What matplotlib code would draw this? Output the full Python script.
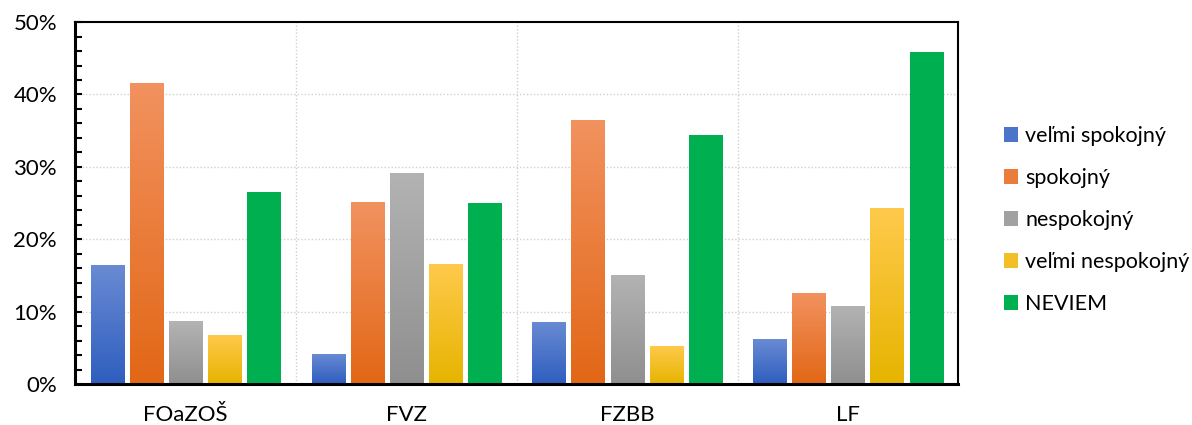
import numpy as np
import matplotlib
matplotlib.use("Agg")
import matplotlib.pyplot as plt
from matplotlib.colors import LinearSegmentedColormap
from matplotlib.ticker import MultipleLocator, PercentFormatter
from matplotlib.patches import Patch

categories = ["FOaZOŠ", "FVZ", "FZBB", "LF"]
series_names = ["veľmi spokojný", "spokojný", "nespokojný", "veľmi nespokojný", "NEVIEM"]
velmi_spokojny = [16.5, 4.2, 8.6, 6.2]
spokojny = [41.6, 25.1, 36.5, 12.6]
nespokojny = [8.7, 29.2, 15.1, 10.8]
velmi_nespokojny = [6.8, 16.6, 5.3, 24.3]
neviem = [26.5, 25.0, 34.4, 45.9]
values = [velmi_spokojny, spokojny, nespokojny, velmi_nespokojny, neviem]

# (top colour, bottom colour)
grad = [("#6A8BD3", "#2E5EBF"),
        ("#F2925F", "#E26716"),
        ("#B3B3B3", "#8F8F8F"),
        ("#FFCA4C", "#E6B400"),
        ("#00B050", "#00B050")]

plt.rcParams['font.family'] = ['Lato', 'DejaVu Sans']

fig = plt.figure(figsize=(11.92, 4.25), dpi=100)
ax = fig.add_axes([0.063, 0.0965, 0.741, 0.8515])

x = np.arange(len(categories))
step = 0.177
width = 0.15
for i, (name, vals) in enumerate(zip(series_names, values)):
    offs = (i - 2) * step
    top, bot = grad[i]
    bars = ax.bar(x + offs, vals, width, color=top, label=name, zorder=3,
                  edgecolor='none')
    cmap = LinearSegmentedColormap.from_list(f"g{i}", [bot, top])
    for b in bars:
        bx, by = b.get_x(), b.get_y()
        bw, bh = b.get_width(), b.get_height()
        im = ax.imshow(np.linspace(0, 1, 256).reshape(-1, 1), cmap=cmap,
                       origin='lower', aspect='auto',
                       extent=[bx, bx + bw, by, by + bh], zorder=3.5)
        im.set_clip_path(b)

ax.set_xlim(-0.5, 3.5)
ax.set_ylim(0, 50)
ax.set_aspect('auto')
ax.set_xticks(x)
ax.set_xticklabels(categories, fontsize=16)
ax.tick_params(axis='x', length=0, pad=15)
ax.yaxis.set_major_locator(MultipleLocator(10))
ax.yaxis.set_minor_locator(MultipleLocator(2))
ax.yaxis.set_major_formatter(PercentFormatter(decimals=0))
ax.tick_params(axis='y', which='both', direction='in', length=5, width=1.5,
               labelsize=16, pad=13)

# grid
for yv in range(10, 50, 10):
    ax.axhline(yv, color='#D0D0D0', linestyle=(0, (1, 1.5)), linewidth=1, zorder=1)
for xv in [0.5, 1.5, 2.5]:
    ax.axvline(xv, color='#D0D0D0', linestyle=(0, (1, 1.5)), linewidth=1, zorder=1)

for s in ['top', 'right']:
    ax.spines[s].set_linewidth(1.5)
for s in ['left', 'bottom']:
    ax.spines[s].set_linewidth(2.2)
for s in ax.spines.values():
    s.set_zorder(5)

def mix(c1, c2):
    return [(int(c1[j:j + 2], 16) + int(c2[j:j + 2], 16)) / 510 for j in (1, 3, 5)]

handles = [Patch(facecolor=mix(*grad[i])) for i in range(5)]
fig.legend(handles, series_names, loc='center left',
           bbox_to_anchor=(0.835, 0.482), frameon=False, fontsize=15.5,
           handlelength=0.65, handleheight=0.65, handletextpad=0.35,
           labelspacing=1.02, borderaxespad=0)

fig.savefig("out.png", dpi=100)
